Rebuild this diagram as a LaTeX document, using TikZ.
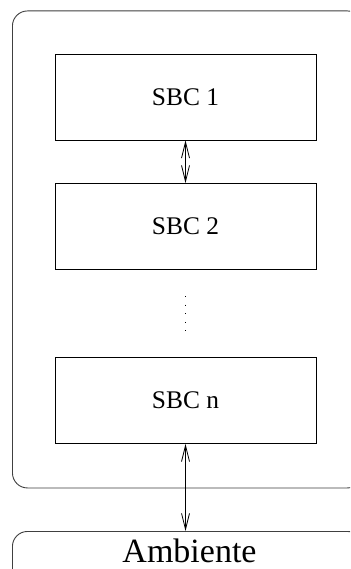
\documentclass[tikz,border=0pt]{standalone}
\usepackage{fontspec}
\setmainfont{Liberation Serif}
\usetikzlibrary{arrows.meta}
\begin{document}
\begin{tikzpicture}[x=1pt,y=-1pt,
  sbcbox/.style={draw, line width=0.9pt, minimum width=261pt, minimum height=86pt, inner sep=0pt, font=\fontsize{25.4}{30}\selectfont},
  frame/.style={draw=black!75, line width=0.9pt, rounded corners=15pt},
  link/.style={line width=0.8pt, {Straight Barb[length=16pt,width=8pt]}-{Straight Barb[length=16pt,width=8pt]}},
  dotted line/.style={line width=0.9pt, dash pattern=on 1pt off 7.6pt}
]
\useasboundingbox (0,0) rectangle (350,569);
\clip (0,0) rectangle (350,569);
\fill[white] (0,0) rectangle (350,569);
\node[frame, minimum width=350pt, minimum height=477pt, inner sep=0pt, anchor=north west] (outer) at (12,10.5) {};
\node[frame, minimum width=350pt, minimum height=80pt, inner sep=0pt, anchor=north west] (ambbox) at (12,531) {};
\node[font=\fontsize{34}{40}\selectfont, inner sep=0pt, anchor=base] (amb) at (189.5,562) {Ambiente};
\node[sbcbox] (sbc1) at (185.5,97) {SBC 1};
\node[sbcbox] (sbc2) at (185.5,226.5) {SBC 2};
\node[sbcbox] (sbcn) at (185.5,400.5) {SBC n};
\coordinate (d1) at (185.5,296);
\coordinate (d2) at (185.5,331);
\draw[dotted line] (d1) -- (d2);
\draw[link] (sbc1.south) -- (sbc2.north);
\draw[link] (sbcn.south) -- (sbcn.south |- ambbox.north);
\end{tikzpicture}
\end{document}
